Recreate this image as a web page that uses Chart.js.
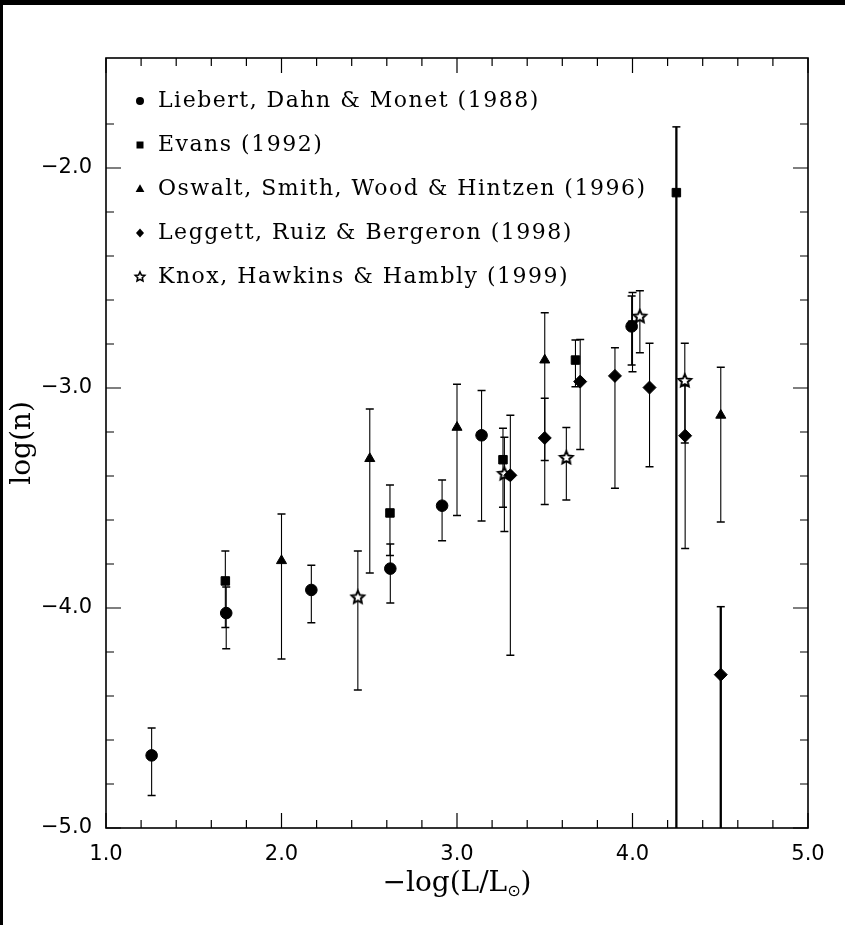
<!DOCTYPE html>
<html lang="en">
<head>
<meta charset="UTF-8">
<title>White dwarf luminosity function</title>
<script src="https://cdn.jsdelivr.net/npm/chart.js@4"></script>
<style>
  html, body { margin: 0; padding: 0; background: #000; }
  #wrap { position: absolute; left: 3px; top: 5px; width: 842px; height: 920px; background: #fff; }
  canvas { display: block; }
</style>
</head>
<body>
<div id="wrap"><canvas id="lfChart" width="842" height="920"></canvas></div>
<script>
// Liebert, Dahn & Monet (1988) - circles
const liebertX  = [1.26, 1.685, 2.17, 2.62, 2.915, 3.14, 3.995];
const liebertY  = [-4.67, -4.023, -3.918, -3.821, -3.535, -3.215, -2.72];
const liebertHi = [-4.545, -3.905, -3.806, -3.709, -3.418, -3.011, -2.582];
const liebertLo = [-4.852, -4.185, -4.067, -3.977, -3.694, -3.605, -2.895];

// Evans (1992) - squares (last one has no lower limit)
const evansX  = [1.68, 2.618, 3.262, 3.675, 4.0, 4.25];
const evansY  = [-3.877, -3.568, -3.326, -2.873, -2.714, -2.112];
const evansHi = [-3.741, -3.441, -3.183, -2.782, -2.566, -1.813];
const evansLo = [-4.089, -3.761, -3.542, -2.994, -2.926, -6.0];

// Oswalt, Smith, Wood & Hintzen (1996) - triangles
const oswaltX  = [2.0, 2.503, 3.0, 3.5, 4.503];
const oswaltY  = [-3.785, -3.321, -3.179, -2.873, -3.124];
const oswaltHi = [-3.573, -3.095, -2.983, -2.658, -2.906];
const oswaltLo = [-4.232, -3.841, -3.579, -3.330, -3.609];

// Leggett, Ruiz & Bergeron (1998) - diamonds
const leggettX  = [3.304, 3.5, 3.702, 3.90, 4.097, 4.30, 4.503];
const leggettY  = [-3.397, -3.227, -2.971, -2.945, -2.998, -3.217, -4.303];
const leggettHi = [-3.124, -3.047, -2.78, -2.817, -2.797, -2.99, -3.994];
const leggettLo = [-4.215, -3.530, -3.28, -3.456, -3.358, -3.73, -6.0];

// Knox, Hawkins & Hambly (1999) - open stars
const knoxX  = [2.435, 3.27, 3.623, 4.042, 4.298];
const knoxY  = [-3.952, -3.391, -3.318, -2.676, -2.968];
const knoxHi = [-3.741, -3.224, -3.179, -2.558, -2.797];
const knoxLo = [-4.373, -3.652, -3.509, -2.84, -3.25];

const xMin = 1.0, xMax = 5.0, yMin = -5.0, yMax = -1.5;

function makeStar(R, lw) {
  const size = Math.ceil(2 * R + lw + 2);
  const c = document.createElement('canvas');
  c.width = c.height = size;
  const g = c.getContext('2d');
  const cx = size / 2, cy = size / 2;
  g.beginPath();
  for (let k = 0; k < 10; k++) {
    const ang = -Math.PI / 2 + k * Math.PI / 5;
    const rr = k % 2 ? R * 0.48 : R;
    g.lineTo(cx + rr * Math.cos(ang), cy + rr * Math.sin(ang));
  }
  g.closePath();
  g.fillStyle = '#fff';
  g.fill();
  g.lineWidth = lw;
  g.strokeStyle = '#000';
  g.stroke();
  return c;
}
const starBig = makeStar(6.6, 2);
const starSmall = makeStar(5, 1.6);

const series = [
  { label: 'Liebert, Dahn & Monet (1988)', x: liebertX, y: liebertY, hi: liebertHi, lo: liebertLo, style: 'circle', r: 5.8 },
  { label: 'Evans (1992)', x: evansX, y: evansY, hi: evansHi, lo: evansLo, style: 'rect', r: 6 },
  { label: 'Oswalt, Smith, Wood & Hintzen (1996)', x: oswaltX, y: oswaltY, hi: oswaltHi, lo: oswaltLo, style: 'triangle', r: 5.8 },
  { label: 'Leggett, Ruiz & Bergeron (1998)', x: leggettX, y: leggettY, hi: leggettHi, lo: leggettLo, style: 'rectRot', r: 6.5 },
  { label: 'Knox, Hawkins & Hambly (1999)', x: knoxX, y: knoxY, hi: knoxHi, lo: knoxLo, style: starBig, r: 6.5 }
];

const legendMarks = ['circle', 'rect', 'triangle', 'rectRot', 'star'];

function isStep(v) { return Math.abs(v * 5 - Math.round(v * 5)) < 1e-6; }
function isMajor(v) { return Math.abs(v - Math.round(v)) < 1e-6; }

function drawMark(ctx, kind, x, y) {
  ctx.fillStyle = '#000';
  ctx.beginPath();
  if (kind === 'circle') {
    ctx.arc(x, y, 4, 0, Math.PI * 2);
  } else if (kind === 'rect') {
    ctx.rect(x - 3.5, y - 3.5, 7, 7);
  } else if (kind === 'triangle') {
    ctx.moveTo(x, y - 4.8); ctx.lineTo(x + 4.4, y + 3); ctx.lineTo(x - 4.4, y + 3);
  } else if (kind === 'rectRot') {
    ctx.moveTo(x, y - 4.6); ctx.lineTo(x + 4, y); ctx.lineTo(x, y + 4.6); ctx.lineTo(x - 4, y);
  } else {
    ctx.drawImage(starSmall, x - starSmall.width / 2, y - starSmall.height / 2);
    return;
  }
  ctx.closePath();
  ctx.fill();
}

const errorBars = {
  id: 'errorBars',
  beforeDatasetsDraw(chart) {
    const { ctx, chartArea: a, scales: { x, y } } = chart;
    ctx.save();
    ctx.beginPath();
    ctx.rect(a.left, a.top, a.right - a.left, a.bottom - a.top);
    ctx.clip();
    ctx.strokeStyle = '#000';
    series.forEach(s => {
      s.x.forEach((xv, i) => {
        const px = x.getPixelForValue(xv);
        const top = y.getPixelForValue(s.hi[i]);
        const bot = y.getPixelForValue(s.lo[i]);
        const open = s.lo[i] < yMin;
        ctx.lineWidth = open ? 2.3 : 1.1;
        ctx.beginPath();
        ctx.moveTo(px, top); ctx.lineTo(px, bot);
        ctx.stroke();
        ctx.lineWidth = 1.5;
        ctx.beginPath();
        ctx.moveTo(px - 4, top); ctx.lineTo(px + 4, top);
        if (!open) { ctx.moveTo(px - 4, bot); ctx.lineTo(px + 4, bot); }
        ctx.stroke();
      });
    });
    ctx.restore();
  }
};

const frameAndText = {
  id: 'frameAndText',
  afterDraw(chart) {
    const { ctx, chartArea: a, scales: { x, y } } = chart;
    ctx.save();
    ctx.strokeStyle = '#000';
    ctx.lineWidth = 1.6;
    ctx.strokeRect(a.left, a.top, a.right - a.left, a.bottom - a.top);

    // inward ticks on all four sides
    ctx.lineWidth = 1.2;
    ctx.beginPath();
    x.ticks.forEach(t => {
      if (!isStep(t.value)) return;
      const px = x.getPixelForValue(t.value);
      const len = isMajor(t.value) ? 15 : 8;
      ctx.moveTo(px, a.bottom); ctx.lineTo(px, a.bottom - len);
      ctx.moveTo(px, a.top); ctx.lineTo(px, a.top + len);
    });
    y.ticks.forEach(t => {
      if (!isStep(t.value)) return;
      const py = y.getPixelForValue(t.value);
      const len = isMajor(t.value) ? 15 : 8;
      ctx.moveTo(a.left, py); ctx.lineTo(a.left + len, py);
      ctx.moveTo(a.right, py); ctx.lineTo(a.right - len, py);
    });
    ctx.stroke();

    // legend
    ctx.textBaseline = 'middle';
    ctx.textAlign = 'left';
    ctx.font = '22px "DejaVu Serif"';
    if ('letterSpacing' in ctx) ctx.letterSpacing = '1.5px';
    series.forEach((s, i) => {
      const ly = 96 + i * 44;
      drawMark(ctx, legendMarks[i], 137, ly);
      ctx.fillStyle = '#000';
      ctx.fillText(s.label, 155, ly);
    });
    if ('letterSpacing' in ctx) ctx.letterSpacing = '0px';

    // axis titles
    ctx.font = '28px "DejaVu Serif"';
    const t1 = '\u2212log(L/L', t2 = '\u2299', t3 = ')';
    const w1 = ctx.measureText(t1).width, w3 = ctx.measureText(t3).width;
    ctx.font = '16px "DejaVu Sans"';
    const w2 = ctx.measureText(t2).width;
    const cx = (a.left + a.right) / 2;
    const ty = 879;
    let sx = cx - (w1 + w2 + w3) / 2;
    ctx.font = '28px "DejaVu Serif"';
    ctx.fillText(t1, sx, ty);
    ctx.font = '16px "DejaVu Sans"';
    ctx.fillText(t2, sx + w1, ty + 8);
    ctx.font = '28px "DejaVu Serif"';
    ctx.fillText(t3, sx + w1 + w2, ty);

    ctx.translate(20, (a.top + a.bottom) / 2);
    ctx.rotate(-Math.PI / 2);
    ctx.textAlign = 'center';
    ctx.fillText('log(n)', 0, 0);
    ctx.restore();
  }
};

const datasets = series.map(s => ({
  label: s.label,
  data: s.x.map((xv, i) => ({ x: xv, y: s.y[i] })),
  pointStyle: s.style,
  pointRadius: s.r,
  backgroundColor: '#000',
  borderColor: '#000',
  borderWidth: 1,
  showLine: false
}));

const tickFont = { family: 'DejaVu Sans', size: 21 };
function fmt(v) {
  if (!isMajor(v)) return '';
  const r = Math.round(v);
  return (r < 0 ? '\u2212' : '') + Math.abs(r).toFixed(1);
}

new Chart(document.getElementById('lfChart').getContext('2d'), {
  type: 'scatter',
  data: { datasets },
  options: {
    responsive: false,
    animation: false,
    events: [],
    layout: { padding: { top: 53, right: 37, left: 0, bottom: 0 } },
    plugins: { legend: { display: false }, tooltip: { enabled: false } },
    scales: {
      x: {
        type: 'linear', min: xMin, max: xMax,
        grid: { display: false, drawTicks: false },
        border: { display: false },
        ticks: { stepSize: 0.2, autoSkip: false, maxRotation: 0, padding: 14, color: '#000', font: tickFont, callback: fmt },
        afterFit(s) { s.height = 97; }
      },
      y: {
        type: 'linear', min: yMin, max: yMax,
        grid: { display: false, drawTicks: false },
        border: { display: false },
        ticks: { stepSize: 0.2, autoSkip: false, padding: 14, color: '#000', font: tickFont, callback: fmt },
        afterFit(s) { s.width = 103; }
      }
    }
  },
  plugins: [errorBars, frameAndText]
});
</script>
</body>
</html>
